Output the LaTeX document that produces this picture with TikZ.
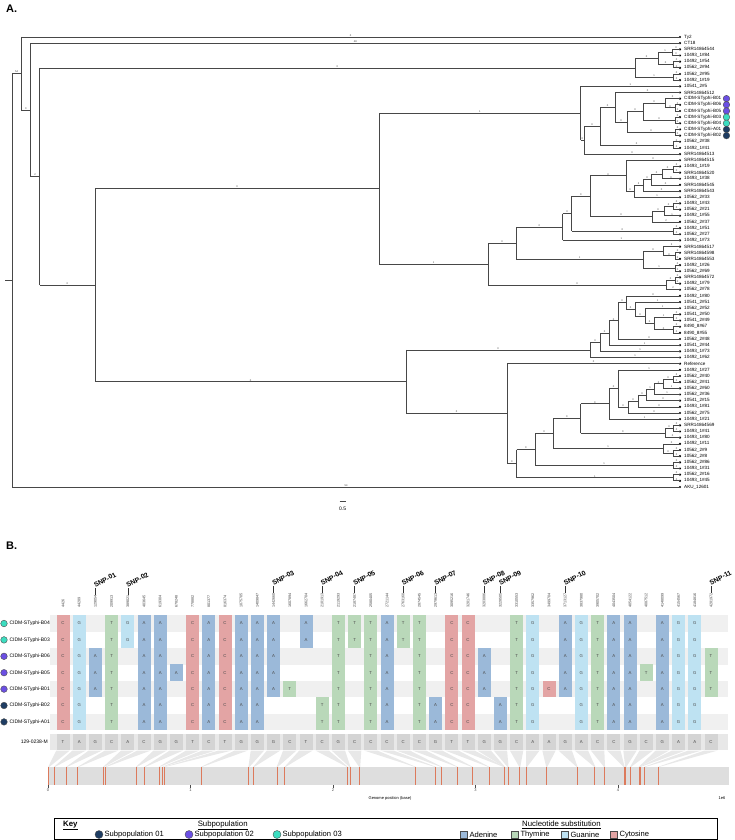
\documentclass[tikz,border=0pt]{standalone}
\usepackage{fontspec}
\setmainfont{Liberation Sans}
\usetikzlibrary{positioning}

\definecolor{nA}{HTML}{9BB9D9}
\definecolor{nT}{HTML}{B9D8B9}
\definecolor{nG}{HTML}{BEE2F2}
\definecolor{nC}{HTML}{E3A4A4}
\definecolor{subA}{HTML}{1E3D63}
\definecolor{subB}{HTML}{6B4FE3}
\definecolor{subC}{HTML}{3CDDC0}
\definecolor{snpred}{HTML}{DC7A5C}

\newcommand{\fsz}[1]{\fontsize{#1}{#1}\selectfont}
% tree helpers: vertical, horizontal with label, cherry of two tips
\newcommand{\vbr}[3]{\draw[branch] (#1,#2) -- (#1,#3);}
\newcommand{\hbr}[4]{\draw[branch] (#1,#3) -- node[blab]{#4} (#2,#3);}
\newcommand{\tpair}[2]{%
  \pgfmathsetmacro{\ya}{37+(#2-1)*6.164}%
  \pgfmathsetmacro{\yb}{\ya+6.164}%
  \draw[branch] (#1,\ya) -- (#1,\yb);
  \draw[branch] (#1,\ya) -- node[blab]{0} (680,\ya);
  \draw[branch] (#1,\yb) -- node[blab]{0} (680,\yb);}

% SNP rows, col/base
\def\rowBfour{1/C,2/G,4/T,5/G,6/A,7/A,9/C,10/A,11/C,12/A,13/A,14/A,16/A,18/T,19/T,20/T,21/A,22/T,23/T,25/C,26/C,29/T,30/G,32/A,33/G,34/T,35/A,36/A,38/A,39/G,40/G}
\def\rowBsix{1/C,2/G,3/A,4/T,6/A,7/A,9/C,10/A,11/C,12/A,13/A,14/A,18/T,20/T,21/A,23/T,25/C,26/C,27/A,29/T,30/G,32/A,33/G,34/T,35/A,36/A,38/A,39/G,40/G,41/T}
\def\rowBfive{1/C,2/G,3/A,4/T,6/A,7/A,8/A,9/C,10/A,11/C,12/A,13/A,14/A,18/T,20/T,21/A,23/T,25/C,26/C,27/A,29/T,30/G,32/A,33/G,34/T,35/A,36/A,37/T,38/A,39/G,40/G,41/T}
\def\rowBone{1/C,2/G,3/A,4/T,6/A,7/A,9/C,10/A,11/C,12/A,13/A,14/A,15/T,18/T,20/T,21/A,23/T,25/C,26/C,27/A,29/T,30/G,31/C,32/A,33/G,34/T,35/A,36/A,38/A,39/G,40/G,41/T}
\def\rowBtwo{1/C,2/G,4/T,6/A,7/A,9/C,10/A,11/C,12/A,13/A,17/T,18/T,20/T,21/A,23/T,24/A,25/C,26/C,28/A,29/T,30/G,33/G,34/T,35/A,36/A,38/A,39/G,40/G}

\begin{document}
\begin{tikzpicture}[x=1pt,y=-1pt,
    branch/.style={line width=0.7pt, black!72},
    blab/.style={above, inner sep=0.4pt, font=\fsz{2.6}, text=black!75},
    tipdot/.style={circle, fill=black, inner sep=0pt, minimum size=2.4pt},
    tiplab/.style={anchor=west, inner sep=0pt, font=\fsz{4.6}},
    subdot/.style={circle, draw=black!70, line width=0.4pt, inner sep=0pt, minimum size=6.6pt},
    cell/.style={rectangle, inner sep=0pt, minimum width=13pt, minimum height=16.7pt,
        font=\fsz{4.3}, text=black!70},
    refbox/.style={cell, fill=black!17},
    poslab/.style={rotate=90, anchor=west, inner sep=0.3pt, font=\fsz{3.7}, text=black!75},
    snplab/.style={rotate=28, anchor=base west, inner sep=0pt, font=\fsz{6.8}\bfseries},
    rowlab/.style={anchor=west, inner sep=0pt, font=\fsz{5}},
    keytxt/.style={anchor=west, inner sep=0pt, font=\fsz{7.6}},
    keyhead/.style={anchor=base, inner sep=0pt, font=\fsz{7.8}}
  ]
  \useasboundingbox (0,0) rectangle (735,840);

  % Panel letters
  \node[anchor=north west, inner sep=0pt, font=\fsz{11}\bfseries] (pA) at (6,5) {A.};
  \node[anchor=north west, inner sep=0pt, font=\fsz{11}\bfseries] (pB) at (6,542) {B.};

  % Tips — one every 6.164pt from y=37
  \foreach \nm [count=\i] in {Ty2, CT18, SRR14864544, 10493\_1\#84, 10492\_1\#54, 10562\_2\#94,
      10562\_2\#95, 10492\_1\#19, 10541\_2\#5, SRR14864512, CIDM-STyphi-B01, CIDM-STyphi-B06,
      CIDM-STyphi-B05, CIDM-STyphi-B03, CIDM-STyphi-B04, CIDM-STyphi-A01, CIDM-STyphi-B02,
      10562\_2\#38, 10492\_1\#41, SRR14864513, SRR14864515, 10493\_1\#19, SRR14864520,
      10493\_1\#38, SRR14864545, SRR14864543, 10562\_2\#33, 10493\_1\#43, 10562\_2\#21,
      10492\_1\#55, 10562\_2\#37, 10492\_1\#51, 10562\_2\#27, 10492\_1\#73, SRR14864517,
      SRR14864598, SRR14864553, 10492\_1\#26, 10562\_2\#69, SRR14864572, 10492\_1\#79,
      10562\_2\#78, 10492\_1\#80, 10541\_2\#51, 10562\_2\#52, 10541\_2\#50, 10541\_2\#49,
      8490\_8\#67, 8490\_8\#55, 10562\_2\#48, 10541\_2\#44, 10493\_1\#73, 10492\_1\#62,
      Reference, 10492\_1\#27, 10562\_2\#40, 10562\_2\#41, 10562\_2\#60, 10562\_2\#36,
      10541\_2\#15, 10493\_1\#81, 10562\_2\#75, 10493\_1\#21, SRR14864569, 10493\_1\#41,
      10493\_1\#80, 10492\_1\#11, 10562\_2\#9, 10562\_2\#8, 10562\_2\#86, 10493\_1\#31,
      10562\_2\#16, 10493\_1\#45, AKU\_12601} {
    \node[tipdot] (tip\i) at (680,{37+(\i-1)*6.164}) {};
    \node[tiplab, right=4pt of tip\i.center] (lab\i) {\nm};
  }
  \foreach \i/\cl in {11/subB,12/subB,13/subB,14/subC,15/subC,16/subA,17/subA}
    \node[subdot, fill=\cl, right=1.5pt of lab\i] (tsub\i) {};

  % Backbone
  \draw[branch] (5,280.2) -- (12.3,280.2);
  \vbr{12.3}{73.45}{487}
  \hbr{12.3}{21}{73.45}{54}
  \hbr{12.3}{680}{487}{54}
  \vbr{21}{37}{109.9}
  \hbr{21}{680}{37}{0}
  \hbr{21}{30.7}{109.9}{0}
  \vbr{30.7}{43.2}{176.6}
  \hbr{30.7}{680}{43.2}{48}
  \hbr{30.7}{39.7}{176.6}{2}
  \vbr{39.7}{68}{285.2}
  \hbr{39.7}{635}{68}{0}
  \hbr{39.7}{95}{285.2}{0}

  % Top clade (tips 3-8)
  \vbr{635}{58.6}{77.05}
  \hbr{635}{658}{58.6}{0}
  \hbr{635}{673}{77.05}{1}
  \vbr{658}{52.4}{64.75}
  \hbr{658}{672}{52.4}{1}
  \hbr{658}{673}{64.75}{0}

  \vbr{95}{188.6}{381.8}
  \hbr{95}{379}{188.6}{0}
  \hbr{95}{406.3}{381.8}{0}
  \vbr{379}{113.2}{264}
  \hbr{379}{580.7}{113.2}{1}
  \hbr{379}{488}{264}{1}

  % CIDM clade (tips 9-20)
  \vbr{580.7}{86.3}{140.1}
  \hbr{580.7}{680}{86.3}{1}
  \hbr{580.7}{584}{140.1}{0}
  \vbr{584}{126.1}{154.1}
  \hbr{584}{680}{154.1}{0}
  \hbr{584}{600}{126.1}{0}
  \vbr{600}{107.3}{144.85}
  \hbr{600}{615}{107.3}{0}
  \hbr{600}{673}{144.85}{0}
  \vbr{615}{92.5}{122.1}
  \hbr{615}{680}{92.5}{0}
  \hbr{615}{627}{122.1}{0}
  \vbr{627}{111.7}{132.55}
  \hbr{627}{643}{111.7}{0}
  \hbr{627}{675}{132.55}{0}
  \vbr{643}{103.2}{120.2}
  \hbr{643}{665}{103.2}{0}
  \hbr{643}{675}{120.2}{0}
  \vbr{665}{98.6}{107.85}
  \hbr{665}{680}{98.6}{0}
  \hbr{665}{675}{107.85}{0}

  % Clade of tips 21-42
  \vbr{488}{243.4}{285.1}
  \hbr{488}{516}{243.4}{0}
  \hbr{488}{666}{285.1}{0}
  \vbr{666}{280.5}{289.7}
  \hbr{666}{675}{280.5}{0}
  \hbr{666}{680}{289.7}{2}
  \vbr{516}{227.05}{259.7}
  \hbr{516}{562.7}{227.05}{0}
  \hbr{516}{643}{259.7}{1}
  \vbr{643}{251.2}{268.15}
  \hbr{643}{663}{251.2}{0}
  \hbr{643}{675}{268.15}{1}
  \vbr{663}{246.6}{255.8}
  \hbr{663}{680}{246.6}{3}
  \hbr{663}{675}{255.8}{0}
  \vbr{562.7}{213.7}{240.4}
  \hbr{562.7}{571.7}{213.7}{0}
  \hbr{562.7}{680}{240.4}{1}
  \vbr{571.7}{196.3}{231.15}
  \hbr{571.7}{590}{196.3}{0}
  \hbr{571.7}{673}{231.15}{0}
  \vbr{590}{175.8}{216.5}
  \hbr{590}{626}{175.8}{0}
  \hbr{590}{652}{216.5}{0}
  \vbr{626}{160.3}{191.3}
  \hbr{626}{680}{160.3}{0}
  \hbr{626}{634}{191.3}{0}
  \vbr{634}{185.3}{197.3}
  \hbr{634}{643}{185.3}{3}
  \hbr{634}{680}{197.3}{1}
  \vbr{643}{179.5}{191.1}
  \hbr{643}{651}{179.5}{0}
  \hbr{643}{680}{191.1}{0}
  \vbr{651}{174.15}{184.9}
  \hbr{651}{662}{174.15}{0}
  \hbr{651}{680}{184.9}{0}
  \vbr{662}{169.5}{178.8}
  \hbr{662}{673}{169.5}{0}
  \hbr{662}{680}{178.8}{0}
  \vbr{652}{211.15}{221.9}
  \hbr{652}{664}{211.15}{0}
  \hbr{652}{680}{221.9}{2}
  \vbr{664}{206.5}{215.8}
  \hbr{664}{673}{206.5}{0}
  \hbr{664}{680}{215.8}{1}

  % Lower clade (tips 43-73)
  \vbr{406.3}{349.9}{413.7}
  \hbr{406.3}{590}{349.9}{0}
  \hbr{406.3}{507}{413.7}{0}
  \vbr{590}{342.2}{357.6}
  \hbr{590}{600}{342.2}{0}
  \hbr{590}{680}{357.6}{1}
  \vbr{600}{333}{351.4}
  \hbr{600}{609}{333}{0}
  \hbr{600}{680}{351.4}{1}
  \vbr{609}{320.8}{345.2}
  \hbr{609}{618}{320.8}{0}
  \hbr{609}{680}{345.2}{1}
  \vbr{618}{302.45}{339.1}
  \hbr{618}{626}{302.45}{0}
  \hbr{618}{680}{339.1}{0}
  \vbr{626}{295.9}{309}
  \hbr{626}{680}{295.9}{0}
  \hbr{626}{635}{309}{0}
  \vbr{635}{302.1}{315.9}
  \hbr{635}{680}{302.1}{1}
  \hbr{635}{645}{315.9}{0}
  \vbr{645}{308.2}{323.65}
  \hbr{645}{680}{308.2}{1}
  \hbr{645}{654}{323.65}{0}
  \vbr{654}{317.5}{329.8}
  \hbr{654}{673}{317.5}{1}
  \hbr{654}{673}{329.8}{0}
  \vbr{507}{363.7}{463.65}
  \hbr{507}{680}{363.7}{0}
  \hbr{507}{516.7}{463.65}{0}
  \vbr{516.7}{449.5}{477.8}
  \hbr{516.7}{535}{449.5}{0}
  \hbr{516.7}{673}{477.8}{1}
  \vbr{535}{433.5}{465.5}
  \hbr{535}{553}{433.5}{0}
  \hbr{535}{673}{465.5}{1}
  \vbr{553}{418.45}{448.5}
  \hbr{553}{580.7}{418.45}{0}
  \hbr{553}{663}{448.5}{1}
  \vbr{663}{443.9}{453.15}
  \hbr{663}{680}{443.9}{0}
  \hbr{663}{673}{453.15}{0}
  \vbr{580.7}{403.8}{433.1}
  \hbr{580.7}{609}{403.8}{0}
  \hbr{580.7}{665}{433.1}{0}
  \vbr{665}{428.5}{437.7}
  \hbr{665}{673}{428.5}{0}
  \hbr{665}{680}{437.7}{0}
  \vbr{609}{388.45}{419.2}
  \hbr{609}{618}{388.45}{0}
  \hbr{609}{680}{419.2}{1}
  \vbr{618}{369.9}{407}
  \hbr{618}{680}{369.9}{1}
  \hbr{618}{628}{407}{0}
  \vbr{628}{400.9}{413.1}
  \hbr{628}{638}{400.9}{0}
  \hbr{628}{680}{413.1}{0}
  \vbr{638}{394.95}{406.9}
  \hbr{638}{646}{394.95}{0}
  \hbr{638}{680}{406.9}{0}
  \vbr{646}{389.2}{400.7}
  \hbr{646}{654}{389.2}{1}
  \hbr{646}{680}{400.7}{0}
  \vbr{654}{383.8}{394.6}
  \hbr{654}{663}{383.8}{0}
  \hbr{654}{680}{394.6}{1}
  \vbr{663}{379.15}{388.4}
  \hbr{663}{673}{379.15}{0}
  \hbr{663}{680}{388.4}{1}

  % Cherries
  \foreach \xx/\ii in {672/3,673/5,673/7,675/12,675/14,675/16,673/18,673/22,673/28,673/32,
      675/36,675/38,675/40,673/46,673/48,673/56,673/64,673/68,673/70,673/72} {\tpair{\xx}{\ii}}

  % Scale bar
  \draw[branch] (339.5,501) -- (346,501);
  \node[font=\fsz{5}, inner sep=0pt] (scl) at (342.7,508.5) {0.5};

  % SNP panel — row stripes, then coloured cells
  \foreach \ry in {623.5,656.3,689.1,721.9}
    \fill[black!6] (50,{\ry-8.2}) rectangle (728,{\ry+8.2});
  \foreach \rn/\ry/\cl in {B04/623.5/subC, B03/639.9/subC, B06/656.3/subB, B05/672.7/subB,
      B01/689.1/subB, B02/705.5/subA, A01/721.9/subA} {
    \node[subdot, fill=\cl] (d\rn) at (4,\ry) {};
    \node[rowlab, right=1.8pt of d\rn] (r\rn) {CIDM-STyphi-\rn};
  }
  \foreach \cc/\nt in \rowBfour \node[cell, fill=n\nt] at ({63+(\cc-1)*16.2},623.5) {\nt};
  \foreach \cc/\nt in \rowBfour \node[cell, fill=n\nt] at ({63+(\cc-1)*16.2},639.9) {\nt};
  \foreach \cc/\nt in \rowBsix  \node[cell, fill=n\nt] at ({63+(\cc-1)*16.2},656.3) {\nt};
  \foreach \cc/\nt in \rowBfive \node[cell, fill=n\nt] at ({63+(\cc-1)*16.2},672.7) {\nt};
  \foreach \cc/\nt in \rowBone  \node[cell, fill=n\nt] at ({63+(\cc-1)*16.2},689.1) {\nt};
  \foreach \cc/\nt in \rowBtwo  \node[cell, fill=n\nt] at ({63+(\cc-1)*16.2},705.5) {\nt};
  \foreach \cc/\nt in \rowBtwo  \node[cell, fill=n\nt] at ({63+(\cc-1)*16.2},721.9) {\nt};

  % Reference row
  \fill[black!9] (50,734) rectangle (728,750);
  \node[rowlab, anchor=east] (refname) at (48,742) {129-0238-M};
  \foreach \nt [count=\cc] in {T,A,G,C,A,C,G,G,T,C,T,G,G,G,C,T,C,G,C,C,C,C,C,G,T,T,G,G,C,A,
      A,G,A,C,C,G,C,G,A,A,C}
    \node[refbox] (ref\cc) at ({63+(\cc-1)*16.2},742) {\nt};

  % Genome bar
  \fill[black!13] (49,767) rectangle (729,785);
  \foreach \cc/\pos/\mb in {1/4426/0.004426, 2/44289/0.044289, 3/129054/0.129054,
      4/209913/0.209913, 5/389021/0.389021, 6/403645/0.403645, 7/619304/0.619304,
      8/678248/0.678248, 9/778882/0.778882, 10/801377/0.801377, 11/816374/0.816374,
      12/1075705/1.075705, 13/1409847/1.409847, 14/1442660/1.442660, 15/1607894/1.607894,
      16/1662704/1.662704, 17/2101913/2.101913, 18/2119293/2.119293, 19/2187487/2.187487,
      20/2580405/2.580405, 21/2721144/2.721144, 22/2763160/2.763160, 23/2874545/2.874545,
      24/2979613/2.979613, 25/3095216/3.095216, 26/3201746/3.201746, 27/3203886/3.203886,
      28/3228505/3.228505, 29/3310553/3.310553, 30/3357962/3.357962, 31/3499704/3.499704,
      32/3713127/3.713127, 33/3837980/3.837980, 34/3905702/3.905702, 35/4043504/4.043504,
      36/4054122/4.054122, 37/4087512/4.087512, 38/4148099/4.148099, 39/4154567/4.154567,
      40/4184816/4.184816, 41/4281972/4.281972} {
    \node[poslab] (p\cc) at ({63+(\cc-1)*16.2},608) {\pos};
    \fill[black!9] (ref\cc.south west) -- (ref\cc.south east)
      -- ({48+142.5*\mb+0.5},767) -- ({48+142.5*\mb-0.5},767) -- cycle;
    \draw[draw=snpred, line width=0.9pt] ({48+142.5*\mb},767) -- ({48+142.5*\mb},785);
  }
  \foreach \k in {0,...,4}
    \draw[black!70, line width=0.4pt] ({48+142.5*\k},785) -- ({48+142.5*\k},788)
      node[below, inner sep=0.6pt, font=\fsz{4}] {\k};
  \node[font=\fsz{4}, inner sep=0pt] (gpos) at (390,798) {Genome position (base)};
  \node[font=\fsz{4}, inner sep=0pt] (gexp) at (722,798) {1e6};

  % SNP call-outs
  \foreach \cc/\s in {3/01,5/02,14/03,17/04,19/05,22/06,24/07,27/08,28/09,32/10,41/11} {
    \draw[black!80, line width=0.5pt] (p\cc.east) -- ++(0,-7) coordinate (s\cc);
    \node[snplab] at (s\cc) {SNP-\s};
  }

  % Key
  \draw[line width=0.7pt] (54,818.5) rectangle (717,839.5);
  \node[keyhead, anchor=base west, font=\fsz{7.8}\bfseries] (kkey) at (63,826.5) {\underline{Key}};
  \node[keyhead] (ksub) at (222.7,826.5) {\underline{Subpopulation}};
  \node[keyhead] (knuc) at (561.4,826.5) {\underline{Nucleotide substitution}};
  \foreach \nm/\cl/\xx in {01/subA/99, 02/subB/189, 03/subC/277} {
    \node[subdot, fill=\cl, minimum size=8pt] (ks\nm) at (\xx,834.5) {};
    \node[keytxt, right=1.2pt of ks\nm] (kst\nm) {Subpopulation \nm};
  }
  \foreach \nm/\cl/\xx in {Adenine/nA/464, Thymine/nT/515, Guanine/nG/565, Cytosine/nC/614} {
    \node[draw=black!70, line width=0.5pt, fill=\cl, minimum size=7.2pt, inner sep=0pt]
      (kn\nm) at (\xx,834.5) {};
    \node[keytxt, right=1.5pt of kn\nm] (knt\nm) {\nm};
  }
\end{tikzpicture}
\end{document}
